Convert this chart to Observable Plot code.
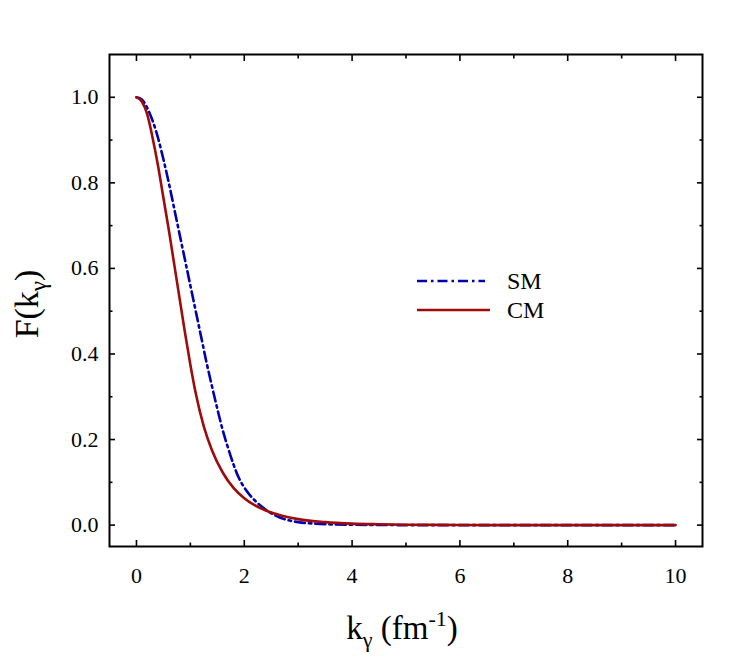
<!DOCTYPE html>
<html><head><meta charset="utf-8">
<script src="https://cdn.jsdelivr.net/npm/d3@7"></script>
<script src="https://cdn.jsdelivr.net/npm/@observablehq/plot@0.6"></script>
<style>body{margin:0;background:#fff}</style>
</head><body><div id="chart"></div>
<script>
// SM (dash-dot, blue)
const kSM = [0, 0.1, 0.2, 0.3, 0.4, 0.5, 0.6, 0.7, 0.8, 0.9, 1.0, 1.1, 1.2, 1.3, 1.4, 1.5, 1.6, 1.7, 1.8, 1.9, 2.0, 2.2, 2.4, 2.6, 2.8, 3.0, 3.3, 3.6, 4.0, 4.5, 5, 6, 8, 10];
const fSM = [1.0, 0.995, 0.975, 0.945, 0.905, 0.855, 0.8, 0.74, 0.68, 0.62, 0.56, 0.5, 0.44, 0.38, 0.325, 0.272, 0.222, 0.18, 0.142, 0.11, 0.088, 0.057, 0.036, 0.021, 0.012, 0.007, 0.0035, 0.0018, 0.0008, 0.0003, 0, 0, 0, 0];
// CM (solid, dark red)
const kCM = [0, 0.1, 0.2, 0.3, 0.4, 0.5, 0.6, 0.7, 0.8, 0.9, 1.0, 1.1, 1.25, 1.4, 1.6, 1.8, 2.0, 2.2, 2.4, 2.7, 3.0, 3.5, 4.0, 4.5, 5, 6, 7, 8, 10];
const fCM = [1.0, 0.99, 0.96, 0.905, 0.84, 0.765, 0.69, 0.61, 0.53, 0.45, 0.375, 0.308, 0.23, 0.175, 0.123, 0.087, 0.063, 0.046, 0.034, 0.022, 0.014, 0.007, 0.0035, 0.002, 0.001, 0.0003, 0, 0, 0];

const xMajor = [0, 2, 4, 6, 8, 10];
const xMinor = [1, 3, 5, 7, 9];
const yMajor = [0, 0.2, 0.4, 0.6, 0.8, 1.0];
const yMinor = [0.1, 0.3, 0.5, 0.7, 0.9];
const seriesNames = ["SM", "CM"];
const seriesColors = ["#0000b0", "#9e0b0b"];
const seriesDash = ["10,4,2.5,4", null];

const sm = kSM.map((k, i) => ({k, f: fSM[i]}));
const cm = kCM.map((k, i) => ({k, f: fCM[i]}));

const serif = "'Liberation Serif', 'Times New Roman', serif";
const fmt = d3.format(".1f");

const plot = Plot.plot({
  width: 730, height: 661,
  marginLeft: 109, marginRight: 28, marginTop: 54, marginBottom: 115,
  style: {fontFamily: serif, fontSize: "22px", color: "#000", background: "#fff"},
  x: {domain: [-0.5, 10.5], label: null},
  y: {domain: [-0.05, 1.1], label: null},
  marks: [
    Plot.line(sm, {x: "k", y: "f", stroke: seriesColors[0], strokeWidth: 2.6, strokeDasharray: seriesDash[0], curve: "monotone-x"}),
    Plot.line(cm, {x: "k", y: "f", stroke: seriesColors[1], strokeWidth: 2.6, curve: "monotone-x"}),
    // labels
    Plot.axisX(xMajor, {anchor: "bottom", tickSize: 0, tickPadding: 21, tickFormat: d => String(d), fontSize: 22}),
    Plot.axisY(yMajor, {anchor: "left", tickSize: 0, tickPadding: 11, tickFormat: fmt, fontSize: 22}),
    // inward ticks
    Plot.axisX(xMajor, {anchor: "bottom", tickSize: -6, strokeWidth: 1.6, fill: "none"}),
    Plot.axisX(xMinor, {anchor: "bottom", tickSize: -3.5, strokeWidth: 1.6, fill: "none"}),
    Plot.axisX(xMajor, {anchor: "top", tickSize: -6, strokeWidth: 1.6, fill: "none"}),
    Plot.axisX(xMinor, {anchor: "top", tickSize: -3.5, strokeWidth: 1.6, fill: "none"}),
    Plot.axisY(yMajor, {anchor: "left", tickSize: -6, strokeWidth: 1.6, fill: "none"}),
    Plot.axisY(yMinor, {anchor: "left", tickSize: -3.5, strokeWidth: 1.6, fill: "none"}),
    Plot.axisY(yMajor, {anchor: "right", tickSize: -6, strokeWidth: 1.6, fill: "none"}),
    Plot.axisY(yMinor, {anchor: "right", tickSize: -3.5, strokeWidth: 1.6, fill: "none"}),
    Plot.frame({stroke: "#000", strokeWidth: 2})
  ]
});

const svg = d3.select(plot);

// Legend
const lg = svg.append("g").attr("font-family", serif).attr("font-size", 24).attr("text-anchor", "start");
const legY = [281, 310];
const legX2 = [485, 490];
seriesNames.forEach((name, i) => {
  lg.append("line").attr("x1", 417).attr("x2", legX2[i]).attr("y1", legY[i]).attr("y2", legY[i])
    .attr("stroke", seriesColors[i]).attr("stroke-width", 2.6)
    .attr("stroke-dasharray", seriesDash[i]);
  lg.append("text").attr("x", 507).attr("y", legY[i]).attr("dy", "0.35em").attr("fill", "#000").text(name);
});

// X axis title
const xt = svg.append("text").attr("x", 402).attr("y", 639).attr("text-anchor", "middle")
  .attr("font-family", serif).attr("font-size", 33).attr("fill", "#000");
xt.append("tspan").text("k");
xt.append("tspan").attr("font-size", 22).attr("dy", 8).text("γ");
xt.append("tspan").attr("dy", -8).text(" (fm");
xt.append("tspan").attr("font-size", 22).attr("dy", -13).text("-1");
xt.append("tspan").attr("dy", 13).text(")");

// Y axis title
const yt = svg.append("text").attr("transform", "translate(38,304) rotate(-90)").attr("text-anchor", "middle")
  .attr("font-family", serif).attr("font-size", 34).attr("fill", "#000");
yt.append("tspan").text("F(k");
yt.append("tspan").attr("font-size", 23).attr("dy", 8).text("γ");
yt.append("tspan").attr("dy", -8).text(")");

document.getElementById("chart").appendChild(plot);
</script>
</body></html>
